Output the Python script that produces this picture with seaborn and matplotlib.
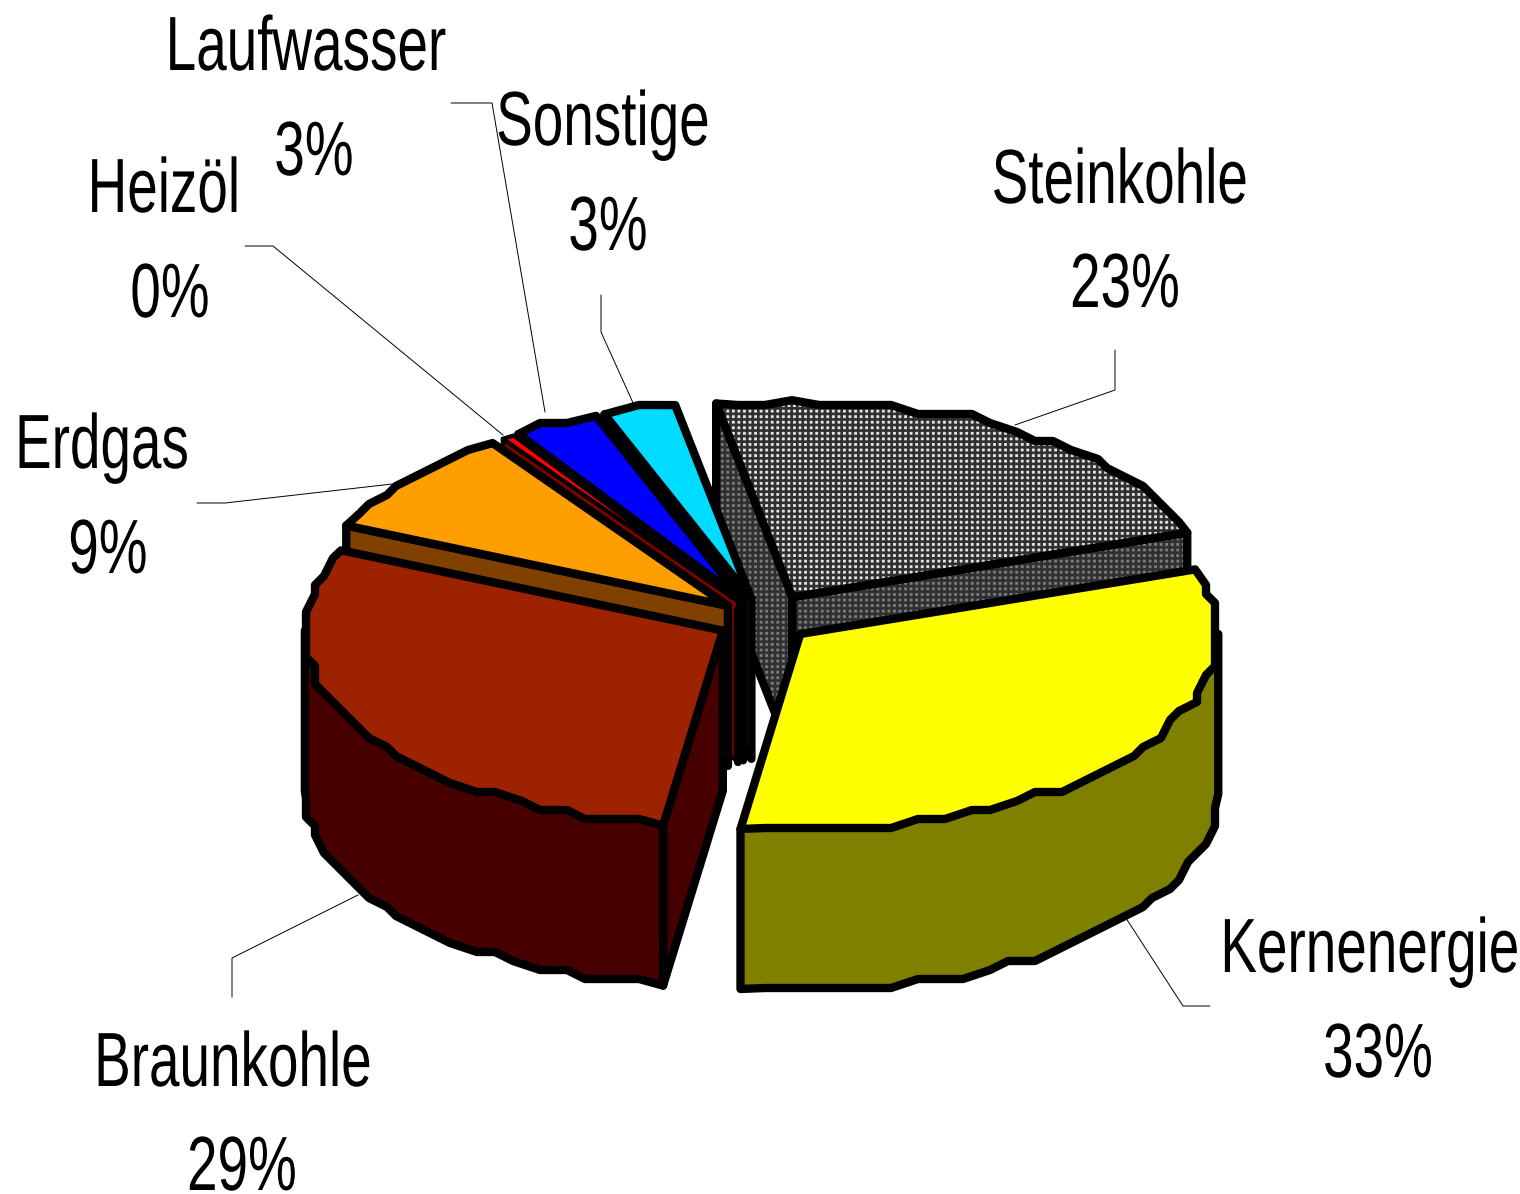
import numpy as np
import matplotlib
matplotlib.use("Agg")
import matplotlib.pyplot as plt
import matplotlib.patheffects as pe
from matplotlib.patches import Polygon
from matplotlib.transforms import Affine2D
import seaborn as sns

# Stromerzeugung nach Energietraegern, order = clockwise from the top
labels = ['Steinkohle', 'Kernenergie', 'Braunkohle', 'Erdgas', 'Heizöl', 'Laufwasser', 'Sonstige']
werte = [22.6, 32.6, 29.4, 8.8, 0.49, 3.31, 2.8]
explode = [1.2, 1, 1, 1, 1, 1, 1]
top_farben = ['#e0e0e0', '#ffff00', '#9c2200', '#ff9e00', '#ff0000', '#0000ff', '#00dcff']
side_farben = ['#7a7a7a', '#808000', '#470000', '#804000', '#800000', '#000080', '#006e80']

# label places in pixels, x centre and baseline
label_pos = [(1120, 203), (1370, 972), (233, 1086), (102, 468), (164, 212), (306, 70), (603, 145)]
pct_pos = [(1125, 307), (1378, 1077), (242, 1190), (108, 573), (170, 317), (314, 175), (608, 250)]
leader_x = [[1015, 1115, 1115], [1122, 1183, 1210], [358, 232, 232], [410, 225, 197],
            [503, 273, 245], [545, 492, 451], [634, 601, 601]]
leader_y = [[425, 390, 350], [912, 1006, 1006], [895, 958, 997], [482, 503, 503],
            [435, 246, 246], [412, 103, 103], [405, 332, 295]]

# pie geometry in pixels
CX, CY = 764, 620
RX, RY = 418, 197
EX, EY = 47, 22
TIEFE = 160
START = 100.5
LW = 6.0
SCHRIFT = 39.5
STRECKUNG = 1.4


class Hochziehen(pe.AbstractPathEffect):
    # the original font is a tall narrow one, stretch glyphs upward from the baseline
    def draw_path(self, renderer, gc, tpath, affine, rgbFace=None):
        renderer.draw_path(gc, tpath, Affine2D().scale(1, STRECKUNG) + affine, rgbFace)


sns.set_theme(style="white")
plt.rcParams['hatch.linewidth'] = 1.9

fig, ax = plt.subplots(figsize=(15.2, 11.94), dpi=100)
ax.set_position([0, 0, 1, 1])
ax.set_xlim(0, 1520)
ax.set_ylim(1194, 0)
ax.axis('off')

top_pal = sns.color_palette(top_farben)
side_pal = sns.color_palette(side_farben)


def rand(a1, a2, x0, y0):
    # rim of a slice, coarse like the old low-res export
    n = max(2, int(abs(a2 - a1) / 3.5) + 1)
    w = np.radians(np.linspace(a1, a2, n))
    x = x0 + RX * np.cos(w)
    y = y0 - RY * np.sin(w)
    x[1:-1] = np.round(x[1:-1] / 9) * 9
    # snapping must not lift the rim above the ellipse top
    y[1:-1] = np.maximum(np.round(y[1:-1] / 9) * 9, y0 - RY)
    return np.column_stack([x, y])


def flaeche(pts, farbe, z, muster=False, lw=LW):
    if muster:
        ax.add_patch(Polygon(pts, closed=True, facecolor=farbe, edgecolor='#303030',
                             hatch='+++', lw=0, zorder=z))
        ax.add_patch(Polygon(pts, closed=True, fill=False, edgecolor='black', lw=lw,
                             joinstyle='round', zorder=z))
    else:
        ax.add_patch(Polygon(pts, closed=True, facecolor=farbe, edgecolor='black', lw=lw,
                             joinstyle='round', zorder=z))


anteile = np.array(werte) / sum(werte) * 360
grenzen = START - np.concatenate([[0], np.cumsum(anteile)])

# painter's order: back slice first, the two big front slices last
reihenfolge = [0, 6, 5, 4, 3, 2, 1]
for k, i in enumerate(reihenfolge):
    a1, a2 = grenzen[i], grenzen[i + 1]
    mitte = np.radians((a1 + a2) / 2)
    x0 = CX + explode[i] * EX * np.cos(mitte)
    y0 = CY - explode[i] * EY * np.sin(mitte)
    z = 2 + k
    muster = i == 0
    # Heizöl is a sliver, full width outline would swallow it
    lw = 3.0 if labels[i] == 'Heizöl' else LW
    r = rand(a1, a2, x0, y0)
    spitze = np.array([x0, y0])
    spitze_u = spitze + [0, TIEFE]
    # cut faces that look towards the viewer
    if np.cos(np.radians(a1)) < 0:
        flaeche(np.array([spitze, r[0], r[0] + [0, TIEFE], spitze_u]), side_pal[i], z, muster, lw)
    if np.cos(np.radians(a2)) > 0:
        flaeche(np.array([spitze, r[-1], r[-1] + [0, TIEFE], spitze_u]), side_pal[i], z, muster, lw)
    # outer wall, only the front half of the ellipse
    hi, lo = min(a1, 0), max(a2, -180)
    if hi > lo:
        rw = rand(hi, lo, x0, y0)
        flaeche(np.vstack([rw[[0, -1]], (rw + [0, TIEFE])[::-1]]), side_pal[i], z, muster, lw)
    flaeche(np.vstack([[spitze], r]), top_pal[i], z, muster, lw)
    if labels[i] == 'Heizöl':
        # below the tip the sliver is just a black bar
        ax.plot([x0, x0], [y0 + 8, y0 + TIEFE], color='black', lw=LW, zorder=z)

for i, name in enumerate(labels):
    ax.plot(leader_x[i], leader_y[i], color='black', lw=0.7, zorder=1)
    for pos, txt in [(label_pos[i], name), (pct_pos[i], f'{round(werte[i])}%')]:
        ax.text(*pos, txt, ha='center', va='baseline', fontsize=SCHRIFT, family='Liberation Sans',
                color='black', zorder=20, path_effects=[Hochziehen()])

fig.savefig('out.png', dpi=100, facecolor='white')
